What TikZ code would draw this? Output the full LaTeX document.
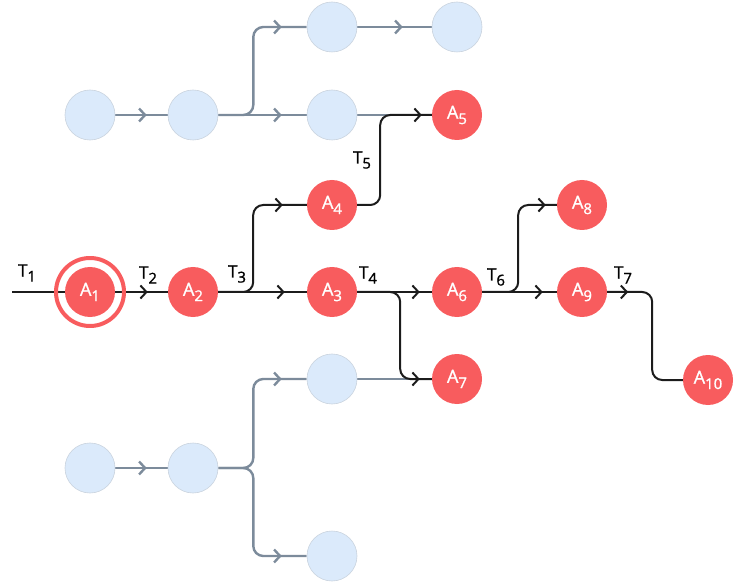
\documentclass[tikz,border=0pt]{standalone}
\usepackage{fontspec}
\setmainfont{Open Sans}
\newfontfamily\lblfont[FakeBold=1.2]{Open Sans}
\usetikzlibrary{arrows.meta,decorations.markings,backgrounds}
\definecolor{actred}{HTML}{F85C5E}
\definecolor{idleblue}{HTML}{DBEAFB}
\definecolor{idleedge}{HTML}{C9D3DE}
\definecolor{ghostgray}{HTML}{7C8B9B}
\definecolor{flowblack}{HTML}{1C1C1C}
\newcommand\lowsub[1]{\raisebox{-0.3em}{\fontsize{15}{17}\selectfont#1}}
\begin{document}
\begin{tikzpicture}[x=1pt,y=-1pt,line join=round,line cap=round,font=\lblfont\fontsize{17}{19}\selectfont,
	act/.style={circle,fill=actred,minimum size=50pt,inner sep=0pt,text=white,font=\lblfont\fontsize{18}{20}\selectfont},
	idle/.style={circle,fill=idleblue,draw=idleedge,line width=0.6pt,minimum size=50pt,inner sep=0pt},
	flow/.style={flowblack,line width=2pt,rounded corners=10pt},
	ghost/.style={ghostgray,line width=2.4pt,rounded corners=10pt},
	tipat/.style={postaction={decorate},decoration={markings,mark=at position #1 with {\arrow{Straight Barb[length=6pt,width=13pt]}}}}]
	\useasboundingbox (0,0) rectangle (748,583);
	% active chain
	\node[act] (A1) at (90,292) {A\lowsub{1}};
	\node[circle,draw=actred,line width=4pt,minimum size=68pt] (A1ring) at (A1) {};
	\node[act] (A2) at (193,292) {A\lowsub{2}};
	\node[act] (A3) at (332,292) {A\lowsub{3}};
	\node[act] (A4) at (332,205) {A\lowsub{4}};
	\node[act] (A5) at (457,115) {A\lowsub{5}};
	\node[act] (A6) at (457,292) {A\lowsub{6}};
	\node[act] (A7) at (457,379) {A\lowsub{7}};
	\node[act] (A8) at (582,205) {A\lowsub{8}};
	\node[act] (A9) at (582,292) {A\lowsub{9}};
	\node[act] (A10) at (708,380) {A\lowsub{10}};
	% idle nodes
	\node[idle] (B1) at (90,115) {};
	\node[idle] (B2) at (193,115) {};
	\node[idle] (B3) at (332,27) {};
	\node[idle] (B4) at (457,27) {};
	\node[idle] (B5) at (332,115) {};
	\node[idle] (B6) at (332,379) {};
	\node[idle] (B7) at (90,468) {};
	\node[idle] (B8) at (193,468) {};
	\node[idle] (B9) at (332,556) {};
	\coordinate (in) at (12,292);
	% labels
	\node (t1) at (27,273) {T\lowsub{1}};
	\node (t2) at (148,275) {T\lowsub{2}};
	\node (t3) at (237,274) {T\lowsub{3}};
	\node (t4) at (368,275) {T\lowsub{4}};
	\node (t5) at (362,160) {T\lowsub{5}};
	\node (t6) at (496,277) {T\lowsub{6}};
	\node (t7) at (623,275) {T\lowsub{7}};
	\begin{scope}[on background layer]
		\draw[ghost,tipat=-21pt] (B1) -- (B2);
		\draw[ghost,tipat=-25pt] (B2) -- (B5);
		\draw[ghost,tipat=-25pt] (B2.east) -- ++(35,0) |- (B3);
		\draw[ghost,tipat=-29pt] (B3) -- (B4);
		\draw[ghost] (B5) -- (A5);
		\draw[ghost,tipat=-21pt] (B7) -- (B8);
		\draw[ghost,tipat=-25pt] (B8.east) -- ++(35,0) |- (B6);
		\draw[ghost,tipat=-25pt] (B8.east) -- ++(35,0) |- (B9);
		\draw[ghost] (B6) -- (A7);
		\draw[flow] (in) -- (A1);
		\draw[flow,tipat=-20pt] (A1) -- (A2);
		\draw[flow,tipat=-22pt] (A2) -- (A3);
		\draw[flow,tipat=-24pt] (A2.east) -- ++(35,0) |- (A4);
		\draw[flow,tipat=-10pt] (A4.east) -- ++(23,0) |- (A5);
		\draw[flow,tipat=-12pt] (A3) -- (A6);
		\draw[flow,tipat=-12pt] (A3.east) -- ++(43,0) |- (A7);
		\draw[flow,tipat=-14pt] (A6) -- (A9);
		\draw[flow,tipat=-11pt] (A6.east) -- ++(36,0) |- (A8);
		\draw[flow,tipat=21pt] (A9.east) -- ++(45,0) |- (A10);
	\end{scope}
\end{tikzpicture}
\end{document}
